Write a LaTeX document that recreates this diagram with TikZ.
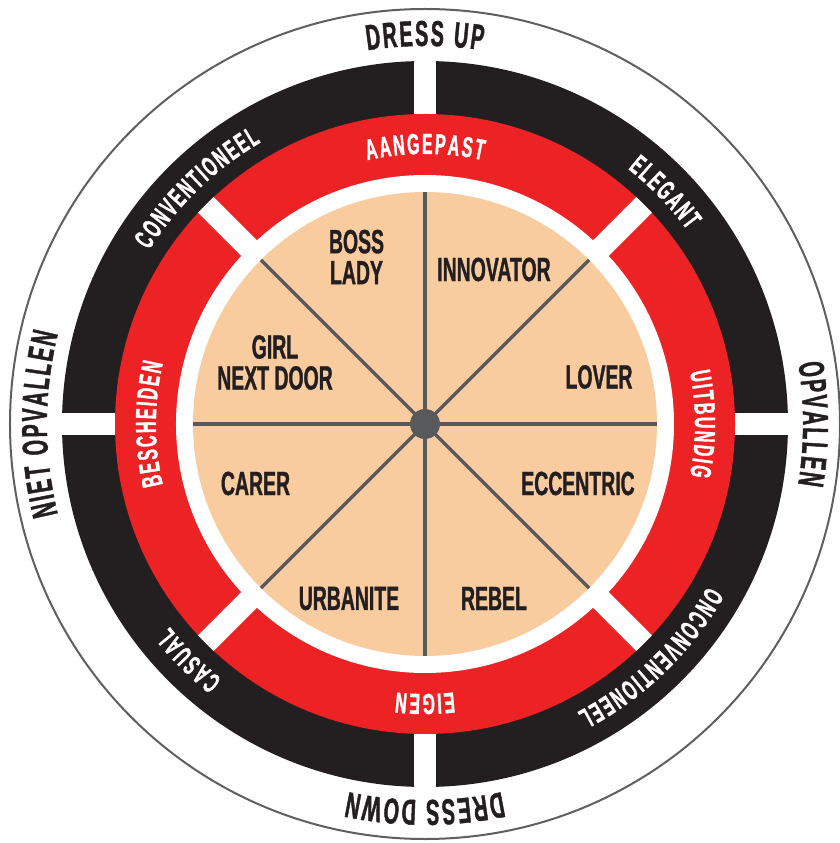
\documentclass[tikz,border=0pt]{standalone}
\usepackage{fontspec}
\usetikzlibrary{decorations.text}
\newfontfamily\ringfont[FakeStretch=0.55, FakeBold=1.2]{Liberation Sans Bold}
\newfontfamily\sectorfont[FakeStretch=0.58, FakeBold=1]{Liberation Sans Bold}
\definecolor{ringblack}{RGB}{35,31,32}
\definecolor{ringred}{RGB}{237,34,36}
\definecolor{peach}{RGB}{249,204,160}
\definecolor{spokegray}{RGB}{88,89,91}
\definecolor{rimgray}{RGB}{95,95,97}

\tikzset{
  sector/.style={font=\sectorfont\fontsize{33.5}{31}\selectfont, text=ringblack, align=center, inner sep=0pt},
  gapband/.style={white, line width=22},
}

% tracked text bent along a clockwise arc: angle, radius, colour, size, text
\newcommand{\ringlabel}[5]{%
  \path[decorate, decoration={text effects along path, text align=center,
      text={#5},
      text effects/.cd, text along path,
      characters={text=#3, font=\ringfont\fontsize{#4}{#4}\selectfont},
      character widths={font=\ringfont\fontsize{#4}{#4}\selectfont, inner xsep=1pt}}]
    (#1+70:#2) arc (#1+70:#1-70:#2);}

\begin{document}
\begin{tikzpicture}[x=1pt, y=1pt]
  \useasboundingbox (-425,-419) rectangle (415,424);

  % Outer rim
  \draw[rimgray, line width=2] (0,0) circle (415);

  % Black ring with four gaps
  \fill[ringblack] (0,0) circle (363);
  \foreach \ang in {0,90,180,270} {
      \draw[gapband] (\ang:300) -- (\ang:366);
    }

  % Red ring with diagonal gaps
  \fill[ringred] (0,0) circle (310);
  \foreach \ang in {45,135,225,315} {
      \draw[gapband] (0,0) -- (\ang:310);
    }

  % Inner disc and spokes
  \fill[white] (0,0) circle (249);
  \fill[peach] (0,0) circle (232);
  \foreach \ang in {0,45,...,315} {
      \draw[spokegray, line width=3.5] (0,0) -- (\ang:232);
    }
  \fill[spokegray] (0,0) circle (15);

  % Axis labels on the white rim
  \ringlabel{90}{378}{ringblack}{36}{DRESS UP}
  \ringlabel{0}{378}{ringblack}{36}{OPVALLEN}
  \ringlabel{270}{376}{ringblack}{36}{DRESS DOWN}
  \ringlabel{180}{378}{ringblack}{36}{NIET OPVALLEN}

  % Labels on the black ring
  \ringlabel{44}{326}{white}{28}{ELEGANT}
  \ringlabel{134}{326}{white}{28}{CONVENTIONEEL}
  \ringlabel{225}{326}{white}{28}{CASUAL}
  \ringlabel{314}{326}{white}{28}{ONCONVENTIONEEL}

  % Labels on the red ring
  \ringlabel{90}{270}{white}{29}{AANGEPAST}
  \ringlabel{0}{270}{white}{29}{UITBUNDIG}
  \ringlabel{270}{270}{white}{29}{EIGEN}
  \ringlabel{180}{269}{white}{29}{BESCHEIDEN}

  % Archetypes in the sectors
  \foreach \name/\x/\y/\txt in {bosslady/-68.5/167/{BOSS\\LADY},
      innovator/69/154.5/INNOVATOR,
      girlnextdoor/-150/61.5/{GIRL\\NEXT DOOR},
      lover/174/47/LOVER,
      carer/-169.5/-59.5/CARER,
      eccentric/153/-59.5/ECCENTRIC,
      urbanite/-76/-174.5/URBANITE,
      rebel/69/-174.5/REBEL} {
      \node[sector] (\name) at (\x,\y) {\txt};
    }
\end{tikzpicture}
\end{document}
